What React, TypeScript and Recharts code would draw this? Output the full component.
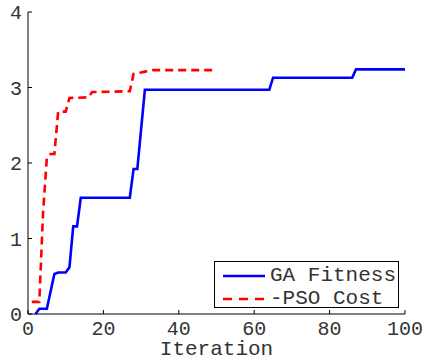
import { Legend, Line, LineChart, XAxis, YAxis } from 'recharts'

// step vertices (iteration, value)
const gaIter = [2, 3, 5, 7, 8, 10, 11, 12, 13, 14, 27, 28, 29, 31, 64, 65, 86, 87, 100]
const gaFitness = [0, 0.07, 0.07, 0.53, 0.55, 0.55, 0.62, 1.16, 1.16, 1.54, 1.54, 1.92, 1.92, 2.97, 2.97, 3.13, 3.13, 3.24, 3.24]

const psoIter = [1, 3, 4, 5, 6, 7, 8, 10, 11, 16, 17, 27, 28, 29, 30, 31, 32, 33, 50]
const psoNegCost = [0.16, 0.16, 1.35, 2.07, 2.12, 2.12, 2.68, 2.68, 2.86, 2.87, 2.94, 2.95, 3.18, 3.19, 3.2, 3.21, 3.22, 3.23, 3.23]

const seriesNames = ['GA Fitness', '-PSO Cost']
const xTicks = [0, 20, 40, 60, 80, 100]
const yTicks = [0, 1, 2, 3, 4]

const gaData = gaIter.map((it, i) => ({ it, v: gaFitness[i] }))
const psoData = psoIter.map((it, i) => ({ it, v: psoNegCost[i] }))

const FONT = 'Liberation Mono, Courier New, DejaVu Sans Mono, monospace'
const INK = '#333'

function LegendBox({ payload }: any) {
  const items = [...(payload || [])].sort(
    (a: any, b: any) => seriesNames.indexOf(a.value) - seriesNames.indexOf(b.value),
  )
  return (
    <div
      style={{
        border: '1.5px solid #000',
        background: '#fff',
        boxSizing: 'border-box',
        width: 185,
        height: 47,
        padding: '2px 0 0 8px',
        fontFamily: FONT,
        fontSize: 21,
        color: INK,
        lineHeight: '23px',
        textAlign: 'left',
      }}
    >
      {items.map((p: any) => (
        <div key={p.value} style={{ display: 'flex', alignItems: 'center' }}>
          <svg width={44} height={10} style={{ marginRight: 3 }}>
            <line
              x1={0}
              x2={42}
              y1={5}
              y2={5}
              stroke={p.color}
              strokeWidth={2.5}
              strokeDasharray={p.payload?.strokeDasharray ? '9 7' : undefined}
            />
          </svg>
          <span>{p.value}</span>
        </div>
      ))}
    </div>
  )
}

export default function App() {
  return (
    <div style={{ position: 'absolute', left: 0, top: 0, background: '#fff' }}>
      <LineChart width={425} height={360} margin={{ top: 12, right: 20, left: 0, bottom: 0 }}>
        <XAxis
          xAxisId="b"
          dataKey="it"
          type="number"
          domain={[0, 100]}
          ticks={xTicks}
          height={46}
          tickSize={-4}
          tickMargin={11}
          stroke="#000"
          tick={{ fill: INK, fontSize: 20, fontFamily: FONT }}
          label={{ value: 'Iteration', position: 'insideBottom', offset: 5, fill: INK, fontSize: 21, fontFamily: FONT }}
          allowDuplicatedCategory={false}
        />
        <XAxis
          xAxisId="t"
          orientation="top"
          dataKey="it"
          type="number"
          domain={[0, 100]}
          ticks={xTicks}
          height={0}
          tickSize={-4}
          stroke="#000"
          tickFormatter={() => ''}
          allowDuplicatedCategory={false}
        />
        <YAxis
          yAxisId="l"
          domain={[0, 4]}
          ticks={yTicks}
          width={28}
          tickSize={-4}
          tickMargin={10}
          stroke="#000"
          tick={{ fill: INK, fontSize: 20, fontFamily: FONT }}
        />
        <YAxis
          yAxisId="r"
          orientation="right"
          domain={[0, 4]}
          ticks={yTicks}
          width={0}
          tickSize={-4}
          stroke="#000"
          tickFormatter={() => ''}
        />
        <Line
          xAxisId="b"
          yAxisId="l"
          data={gaData}
          dataKey="v"
          name={seriesNames[0]}
          stroke="#0000ff"
          strokeWidth={2.6}
          dot={false}
          isAnimationActive={false}
        />
        <Line
          xAxisId="b"
          yAxisId="l"
          data={psoData}
          dataKey="v"
          name={seriesNames[1]}
          stroke="#ff0000"
          strokeWidth={2.6}
          strokeDasharray="8 5"
          dot={false}
          isAnimationActive={false}
        />
        <Legend
          layout="horizontal"
          verticalAlign="middle"
          align="center"
          content={<LegendBox />}
          wrapperStyle={{ position: 'absolute', left: 214, top: 261, width: 185, height: 47 }}
        />
      </LineChart>
    </div>
  )
}
